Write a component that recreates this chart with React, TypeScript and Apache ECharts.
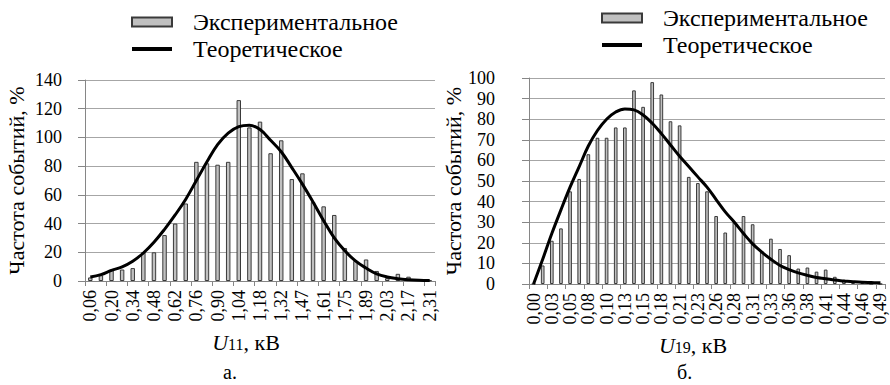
import React, { useEffect, useRef } from "react";
import * as echarts from "echarts";

const FONT = "Liberation Serif";

const leftCategories = [
  "0,06", "0,13", "0,20", "0,27", "0,34", "0,41", "0,48", "0,55", "0,62", "0,69",
  "0,76", "0,83", "0,90", "0,97", "1,04", "1,11", "1,18", "1,25", "1,32", "1,40",
  "1,47", "1,54", "1,61", "1,68", "1,75", "1,82", "1,89", "1,96", "2,03", "2,10",
  "2,17", "2,24", "2,31",
];
const leftExperimental = [
  2.5, 4, 8, 8, 9, 20, 20, 32, 40, 54, 83, 82, 81, 83, 126, 107, 111, 89, 98, 71,
  75, 55, 52, 46, 23, 14, 15, 7, 2, 5, 3, 1, 0.5,
];
const leftTheoretical = [
  2.8, 4.4, 7.4, 9.8, 13.7, 19.5, 27, 36, 46, 57, 70, 83, 95, 103, 107.5, 108.5,
  105.5, 98, 90, 79, 67.5, 55, 42, 30, 21, 14, 9, 5, 2.8, 1.6, 0.9, 0.5, 0.3,
];

const rightCategories = [
  "0,00", "0,01", "0,03", "0,04", "0,05", "0,06", "0,08", "0,09", "0,10", "0,12",
  "0,13", "0,14", "0,15", "0,17", "0,18", "0,19", "0,21", "0,22", "0,23", "0,25",
  "0,26", "0,27", "0,28", "0,30", "0,31", "0,32", "0,33", "0,35", "0,36", "0,37",
  "0,38", "0,40", "0,41", "0,42", "0,44", "0,45", "0,46", "0,48", "0,49",
];
const rightExperimental = [
  0, 9, 21, 27, 45, 51, 63, 71, 71, 76, 76, 94, 86, 98, 92, 79, 77, 52, 49, 45,
  33, 25, 30, 33, 29, 16, 22, 17, 14, 7.5, 8, 6, 7, 3.5, 2, 1, 0.5, 0, 0,
];
const rightTheoretical = [
  0, 12, 24.5, 36, 47, 57, 67, 74.5, 80, 83.5, 85, 84.5, 82, 78, 73, 67.5, 62, 57,
  52, 47, 41, 35, 30, 24.5, 19.5, 15.5, 12, 9, 7, 5.4, 4.2, 3.2, 2.6, 1.9, 1.5,
  1.1, 0.8, 0.7, 0.6,
];

const EXP = "Экспериментальное";
const THEO = "Теоретическое";
const Y_NAME = "Частота событий, %";

const axisGrey = "#868686";
const gridGrey = "#a6a6a6";

function xAxisCfg(gridIndex: number, data: string[], sub: string) {
  return {
    type: "category",
    gridIndex,
    data,
    boundaryGap: true,
    axisLine: { show: true, lineStyle: { color: axisGrey, width: 1 } },
    axisTick: { show: true, interval: 1, length: 5, lineStyle: { color: axisGrey } },
    axisLabel: {
      interval: 1,
      rotate: 90,
      fontSize: 18,
      color: "#000",
      fontFamily: FONT,
      margin: 9,
    },
    name: "{u|U}{s|" + sub + "}{n|, кВ}",
    nameLocation: "middle",
    nameGap: 50,
    nameTextStyle: {
      fontFamily: FONT,
      padding: [0, 28, 0, 0],
      rich: {
        u: { fontSize: 22, fontStyle: "italic", fontFamily: FONT, color: "#000" },
        s: { fontSize: 16, fontFamily: FONT, color: "#000", padding: [4, 0, 0, 0] },
        n: { fontSize: 22, fontFamily: FONT, color: "#000" },
      },
    },
  };
}

function yAxisCfg(gridIndex: number, max: number, interval: number, margin: number, gap: number) {
  return {
    type: "value",
    gridIndex,
    min: 0,
    max,
    interval,
    axisLine: { show: true, lineStyle: { color: axisGrey, width: 1 } },
    axisTick: { show: true, length: 7, lineStyle: { color: axisGrey } },
    splitLine: { show: true, lineStyle: { color: gridGrey, width: 1 } },
    axisLabel: { fontSize: 18, color: "#000", fontFamily: FONT, margin },
    name: Y_NAME,
    nameLocation: "middle",
    nameGap: gap,
    nameTextStyle: { fontSize: 22, color: "#000", fontFamily: FONT },
  };
}

function legendCfg(left: number, top: number) {
  return {
    left,
    top,
    orient: "vertical",
    itemWidth: 40,
    itemHeight: 9,
    itemGap: 3,
    textStyle: { fontSize: 24, color: "#000", fontFamily: FONT, padding: [0, 0, 0, 16] },
    data: [
      { name: EXP, icon: "rect" },
      { name: THEO, itemStyle: { opacity: 0 }, lineStyle: { width: 4, color: "#000" } },
    ],
  };
}

const barStyle = { color: "#c0c0c0", borderColor: "#3a3a3a", borderWidth: 1 };

export default function App() {
  const ref = useRef<HTMLDivElement>(null);
  useEffect(() => {
    if (!ref.current) return;
    const chart = echarts.init(ref.current, null, { renderer: "svg" });
    chart.setOption({
      animation: false,
      backgroundColor: "#fff",
      textStyle: { fontFamily: FONT },
      legend: [legendCfg(125, 5), legendCfg(595, 1)],
      grid: [
        { left: 85, top: 80, width: 350, height: 201 },
        { left: 529, top: 78, width: 356, height: 206 },
      ],
      xAxis: [xAxisCfg(0, leftCategories, "11"), xAxisCfg(1, rightCategories, "19")],
      yAxis: [yAxisCfg(0, 140, 20, 23, 58), yAxisCfg(1, 100, 10, 34, 58)],
      series: [
        {
          name: EXP,
          type: "bar",
          xAxisIndex: 0,
          yAxisIndex: 0,
          data: leftExperimental,
          barWidth: "42%",
          itemStyle: barStyle,
        },
        {
          name: THEO,
          type: "line",
          xAxisIndex: 0,
          yAxisIndex: 0,
          data: leftTheoretical,
          smooth: 0.4,
          symbol: "none",
          lineStyle: { color: "#000", width: 3 },
          itemStyle: { color: "#000" },
          z: 3,
        },
        {
          name: EXP,
          type: "bar",
          xAxisIndex: 1,
          yAxisIndex: 1,
          data: rightExperimental,
          barWidth: "40%",
          itemStyle: barStyle,
        },
        {
          name: THEO,
          type: "line",
          xAxisIndex: 1,
          yAxisIndex: 1,
          data: rightTheoretical,
          smooth: 0.4,
          symbol: "none",
          lineStyle: { color: "#000", width: 3 },
          itemStyle: { color: "#000" },
          z: 3,
        },
      ],
      graphic: [
        {
          type: "text",
          left: 223,
          top: 362,
          style: { text: "а.", fontSize: 20, fontFamily: FONT, fill: "#000" },
        },
        {
          type: "text",
          left: 677,
          top: 362,
          style: { text: "б.", fontSize: 20, fontFamily: FONT, fill: "#000" },
        },
      ],
    });
    return () => chart.dispose();
  }, []);
  return (
    <div
      ref={ref}
      style={{ position: "fixed", left: 0, top: 0, width: 890, height: 385, background: "#fff" }}
    />
  );
}
